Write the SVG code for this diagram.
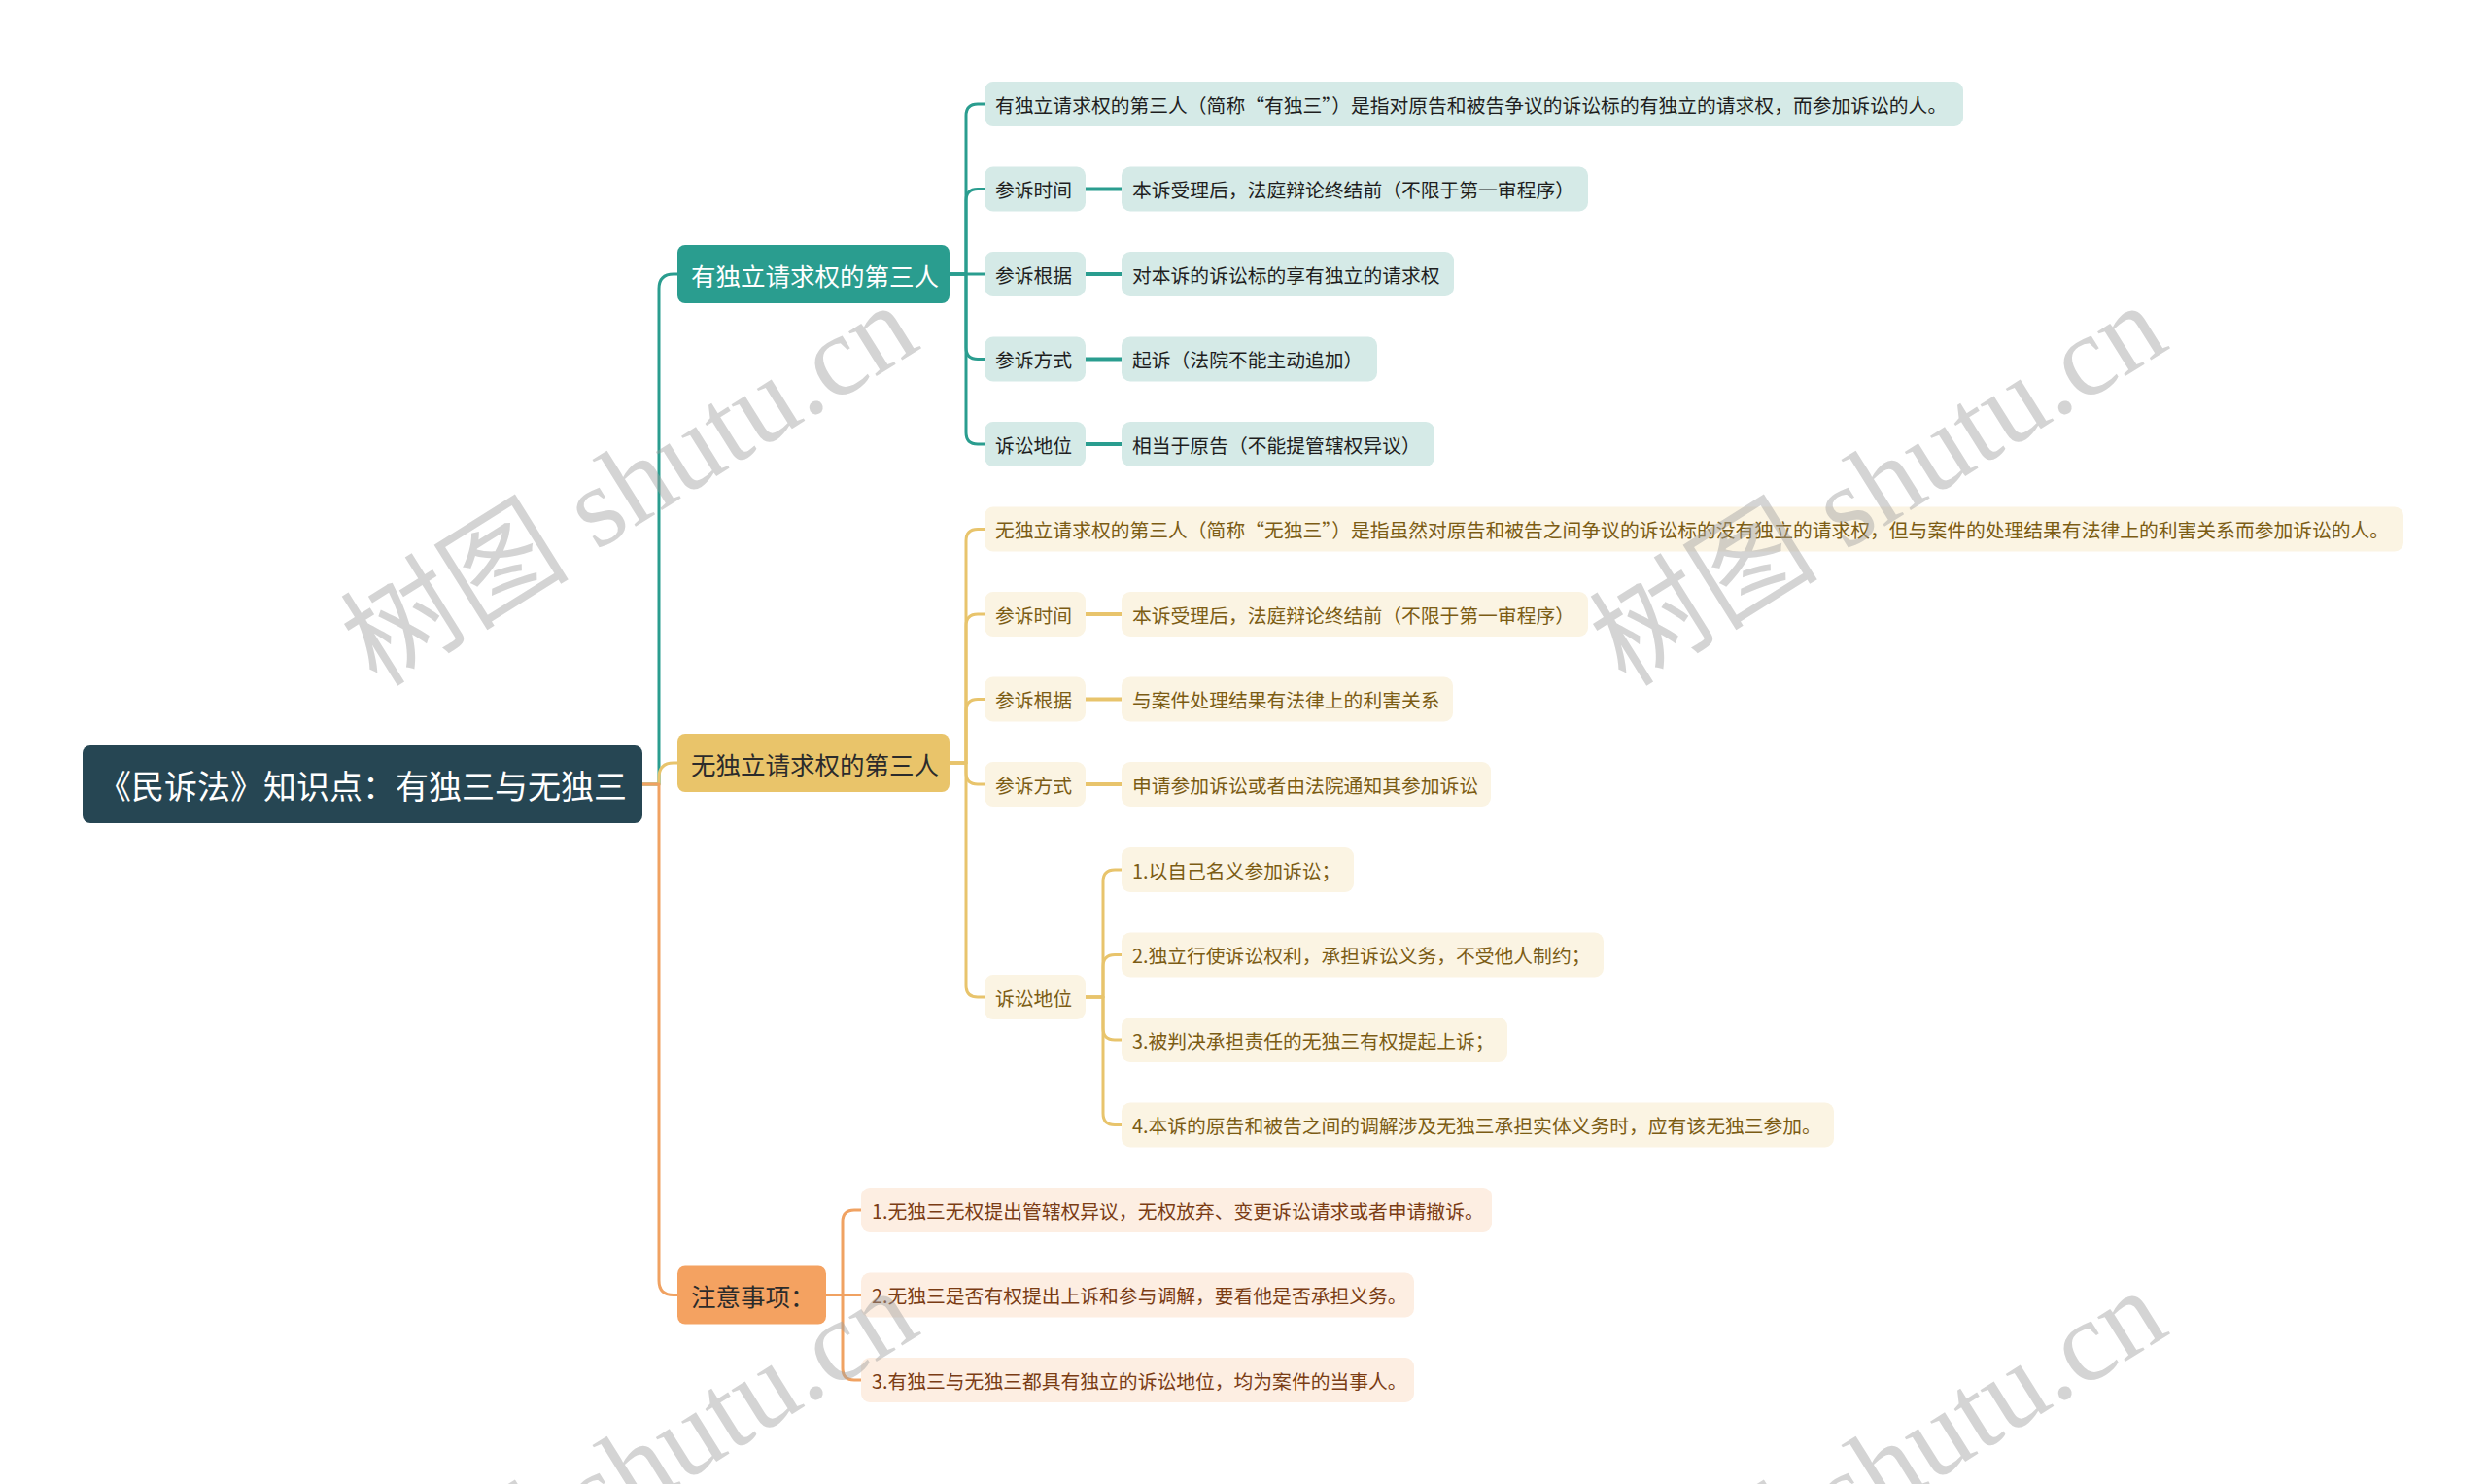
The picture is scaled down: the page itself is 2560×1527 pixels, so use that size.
<svg xmlns="http://www.w3.org/2000/svg" width="2560" height="1527" viewBox="0 0 2560 1527">
<style>
text{font-family:"Noto Sans CJK SC","Noto Sans",sans-serif;dominant-baseline:central}
.root{fill:#264653}
.rt{fill:#ffffff;font-size:34px}
.l1t{font-size:25.5px}
.teal{fill:#2a9d8f}
.yel{fill:#e9c46a}
.ora{fill:#f4a261}
.tl2{fill:#d5eae7}
.yl2{fill:#fbf4e3}
.ol2{fill:#fdeee2}
.t2{font-size:19.8px}
.tt{fill:#1e1e1e}
.yt{fill:#7b5c14}
.ot{fill:#7a3c14}
.c{fill:none;stroke-width:3;stroke-linecap:round;stroke-linejoin:round}
.cs{fill:none;stroke-width:4}
.ct{stroke:#2a9d8f}
.cy{stroke:#e8c46c}
.co{stroke:#f0a262}
.wm{font-family:"Liberation Serif","Noto Sans CJK SC",serif;font-size:118px;fill:#a0a0a0;fill-opacity:0.45;dominant-baseline:alphabetic}
</style>

<g id="connectors">
  <path class="c ct" d="M661,807 H678 V297 Q678,282 693,282 H697"/>
  <path class="c cy" d="M661,807 H678 V800 Q678,785 693,785 H697"/>
  <path class="c co" d="M661,807 H678 V1317.5 Q678,1332.5 693,1332.5 H697"/>

  <path class="c ct" d="M977,282 H994 V119 Q994,107 1006,107 H1013"/>
  <path class="c ct" d="M977,282 H994 V206.5 Q994,194.5 1006,194.5 H1013"/>
  <path class="c ct" d="M977,282 H1013"/>
  <path class="c ct" d="M977,282 H994 V357.5 Q994,369.5 1006,369.5 H1013"/>
  <path class="c ct" d="M977,282 H994 V445 Q994,457 1006,457 H1013"/>
  <path class="cs ct" d="M1117,194.5 H1154"/>
  <path class="cs ct" d="M1117,282 H1154"/>
  <path class="cs ct" d="M1117,369.5 H1154"/>
  <path class="cs ct" d="M1117,457 H1154"/>

  <path class="c cy" d="M977,785 H994 V556.5 Q994,544.5 1006,544.5 H1013"/>
  <path class="c cy" d="M977,785 H994 V644 Q994,632 1006,632 H1013"/>
  <path class="c cy" d="M977,785 H994 V731.5 Q994,719.5 1006,719.5 H1013"/>
  <path class="c cy" d="M977,785 H994 V795 Q994,807 1006,807 H1013"/>
  <path class="c cy" d="M977,785 H994 V1014 Q994,1026 1006,1026 H1013"/>
  <path class="cs cy" d="M1117,632 H1154"/>
  <path class="cs cy" d="M1117,719.5 H1154"/>
  <path class="cs cy" d="M1117,807 H1154"/>
  <path class="c cy" d="M1117,1026 H1135 V907 Q1135,895 1147,895 H1154"/>
  <path class="c cy" d="M1117,1026 H1135 V994.5 Q1135,982.5 1147,982.5 H1154"/>
  <path class="c cy" d="M1117,1026 H1135 V1058 Q1135,1070 1147,1070 H1154"/>
  <path class="c cy" d="M1117,1026 H1135 V1145.5 Q1135,1157.5 1147,1157.5 H1154"/>

  <path class="c co" d="M850,1332.5 H867 V1257 Q867,1245 879,1245 H886"/>
  <path class="c co" d="M850,1332.5 H886"/>
  <path class="c co" d="M850,1332.5 H867 V1408 Q867,1420 879,1420 H886"/>
</g>

<g id="root-node">
  <rect class="root" x="85" y="767" width="576" height="80" rx="8"/>
  <text class="rt" x="373" y="807" text-anchor="middle">《民诉法》知识点：有独三与无独三</text>
</g>

<g id="branch-youdu">
  <rect class="teal" x="697" y="252" width="280" height="60" rx="8"/>
  <text class="l1t" x="711" y="282" fill="#ffffff">有独立请求权的第三人</text>
</g>
<g id="branch-wudu">
  <rect class="yel" x="697" y="755" width="280" height="60" rx="8"/>
  <text class="l1t" x="711" y="785" fill="#2b2b2b">无独立请求权的第三人</text>
</g>
<g id="branch-zhuyi">
  <rect class="ora" x="697" y="1302.5" width="153" height="60" rx="8"/>
  <text class="l1t" x="711" y="1332.5" fill="#2b2b2b">注意事项：</text>
</g>

<g id="y-def">
  <rect class="tl2" x="1013" y="84" width="1007" height="46" rx="9"/>
  <text class="t2 tt" x="1024" y="107">有独立请求权的第三人（简称“有独三”）是指对原告和被告争议的诉讼标的有独立的请求权，而参加诉讼的人。</text>
</g>
<g id="y-time">
  <rect class="tl2" x="1013" y="171.5" width="104" height="46" rx="9"/>
  <text class="t2 tt" x="1024" y="194.5">参诉时间</text>
</g>
<g id="y-time-v">
  <rect class="tl2" x="1154" y="171.5" width="480" height="46" rx="9"/>
  <text class="t2 tt" x="1165" y="194.5">本诉受理后，法庭辩论终结前（不限于第一审程序）</text>
</g>
<g id="y-basis">
  <rect class="tl2" x="1013" y="259" width="104" height="46" rx="9"/>
  <text class="t2 tt" x="1024" y="282">参诉根据</text>
</g>
<g id="y-basis-v">
  <rect class="tl2" x="1154" y="259" width="342" height="46" rx="9"/>
  <text class="t2 tt" x="1165" y="282">对本诉的诉讼标的享有独立的请求权</text>
</g>
<g id="y-way">
  <rect class="tl2" x="1013" y="346.5" width="104" height="46" rx="9"/>
  <text class="t2 tt" x="1024" y="369.5">参诉方式</text>
</g>
<g id="y-way-v">
  <rect class="tl2" x="1154" y="346.5" width="263" height="46" rx="9"/>
  <text class="t2 tt" x="1165" y="369.5">起诉（法院不能主动追加）</text>
</g>
<g id="y-status">
  <rect class="tl2" x="1013" y="434" width="104" height="46" rx="9"/>
  <text class="t2 tt" x="1024" y="457">诉讼地位</text>
</g>
<g id="y-status-v">
  <rect class="tl2" x="1154" y="434" width="322" height="46" rx="9"/>
  <text class="t2 tt" x="1165" y="457">相当于原告（不能提管辖权异议）</text>
</g>

<g id="w-def">
  <rect class="yl2" x="1013" y="521.5" width="1460" height="46" rx="9"/>
  <text class="t2 yt" x="1024" y="544.5">无独立请求权的第三人（简称“无独三”）是指虽然对原告和被告之间争议的诉讼标的没有独立的请求权，但与案件的处理结果有法律上的利害关系而参加诉讼的人。</text>
</g>
<g id="w-time">
  <rect class="yl2" x="1013" y="609" width="104" height="46" rx="9"/>
  <text class="t2 yt" x="1024" y="632">参诉时间</text>
</g>
<g id="w-time-v">
  <rect class="yl2" x="1154" y="609" width="480" height="46" rx="9"/>
  <text class="t2 yt" x="1165" y="632">本诉受理后，法庭辩论终结前（不限于第一审程序）</text>
</g>
<g id="w-basis">
  <rect class="yl2" x="1013" y="696.5" width="104" height="46" rx="9"/>
  <text class="t2 yt" x="1024" y="719.5">参诉根据</text>
</g>
<g id="w-basis-v">
  <rect class="yl2" x="1154" y="696.5" width="341" height="46" rx="9"/>
  <text class="t2 yt" x="1165" y="719.5">与案件处理结果有法律上的利害关系</text>
</g>
<g id="w-way">
  <rect class="yl2" x="1013" y="784" width="104" height="46" rx="9"/>
  <text class="t2 yt" x="1024" y="807">参诉方式</text>
</g>
<g id="w-way-v">
  <rect class="yl2" x="1154" y="784" width="380" height="46" rx="9"/>
  <text class="t2 yt" x="1165" y="807">申请参加诉讼或者由法院通知其参加诉讼</text>
</g>
<g id="w-status">
  <rect class="yl2" x="1013" y="1003" width="104" height="46" rx="9"/>
  <text class="t2 yt" x="1024" y="1026">诉讼地位</text>
</g>
<g id="w-status-1">
  <rect class="yl2" x="1154" y="872" width="239" height="46" rx="9"/>
  <text class="t2 yt" x="1165" y="895">1.以自己名义参加诉讼；</text>
</g>
<g id="w-status-2">
  <rect class="yl2" x="1154" y="959.5" width="496" height="46" rx="9"/>
  <text class="t2 yt" x="1165" y="982.5">2.独立行使诉讼权利，承担诉讼义务，不受他人制约；</text>
</g>
<g id="w-status-3">
  <rect class="yl2" x="1154" y="1047" width="397" height="46" rx="9"/>
  <text class="t2 yt" x="1165" y="1070">3.被判决承担责任的无独三有权提起上诉；</text>
</g>
<g id="w-status-4">
  <rect class="yl2" x="1154" y="1134.5" width="733" height="46" rx="9"/>
  <text class="t2 yt" x="1165" y="1157.5">4.本诉的原告和被告之间的调解涉及无独三承担实体义务时，应有该无独三参加。</text>
</g>

<g id="z-1">
  <rect class="ol2" x="886" y="1222" width="649" height="46" rx="9"/>
  <text class="t2 ot" x="897" y="1245">1.无独三无权提出管辖权异议，无权放弃、变更诉讼请求或者申请撤诉。</text>
</g>
<g id="z-2">
  <rect class="ol2" x="886" y="1309.5" width="569" height="46" rx="9"/>
  <text class="t2 ot" x="897" y="1332.5">2.无独三是否有权提出上诉和参与调解，要看他是否承担义务。</text>
</g>
<g id="z-3">
  <rect class="ol2" x="886" y="1397" width="569" height="46" rx="9"/>
  <text class="t2 ot" x="897" y="1420">3.有独三与无独三都具有独立的诉讼地位，均为案件的当事人。</text>
</g>

<g id="watermark">
  <text class="wm" transform="translate(388,708) rotate(-32)">树图 shutu.cn</text>
  <text class="wm" transform="translate(1673,708) rotate(-32)">树图 shutu.cn</text>
  <text class="wm" transform="translate(388,1722) rotate(-32)">树图 shutu.cn</text>
  <text class="wm" transform="translate(1673,1722) rotate(-32)">树图 shutu.cn</text>
</g>
</svg>
